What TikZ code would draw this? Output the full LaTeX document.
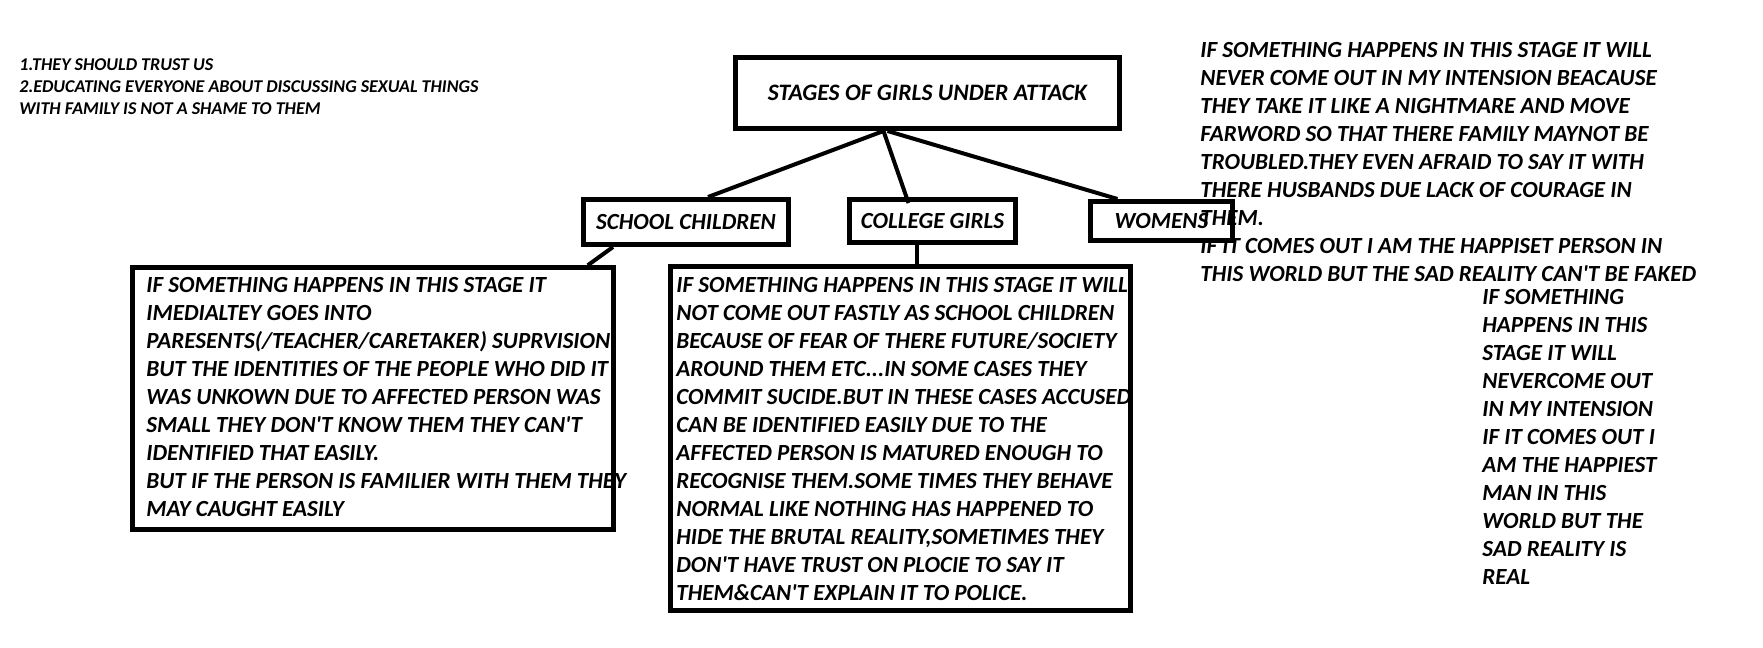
\documentclass[tikz,border=0pt]{standalone}
\usepackage{fontspec}
\setmainfont{Carlito}[Ligatures=TeXOff]

\begin{document}
\begin{tikzpicture}[x=0.5pt, y=-0.5pt,
    font=\bfseries\itshape\fontsize{11.55}{14}\selectfont,
    box/.style={draw, line width=2.5pt, inner sep=0pt},
    note/.style={align=left, inner sep=0pt, anchor=north west},
    link/.style={line width=2pt}]
  \useasboundingbox (0,0) rectangle (1763,648);

  \node[box, minimum width=192pt, minimum height=35.5pt,
        font=\bfseries\itshape\fontsize{11.8}{14}\selectfont] (title) at (927.5,93) {STAGES OF GIRLS UNDER ATTACK};
  \node[box, minimum width=102.5pt, minimum height=22.5pt] (school) at (686,222) {SCHOOL CHILDREN};
  \node[box, minimum width=83pt, minimum height=21.5pt] (college) at (932.5,221) {COLLEGE GIRLS};
  \node[box, minimum width=71pt, minimum height=19.5pt] (women) at (1161.5,221) {WOMENS};

  \node[box, line width=2.2pt, minimum width=240.5pt, minimum height=131pt] (schooltext) at (373,398.5) {};
  \node[box, line width=2.2pt, minimum width=230pt, minimum height=172pt] (collegetext) at (900.5,438.5) {};

  \node[note] (schoolnote) at (146,277) {IF SOMETHING HAPPENS IN THIS STAGE IT\\
    IMEDIALTEY GOES INTO\\
    PARESENTS(/TEACHER/CARETAKER) SUPRVISION\\
    BUT THE IDENTITIES OF THE PEOPLE WHO DID IT\\
    WAS UNKOWN DUE TO AFFECTED PERSON WAS\\
    SMALL THEY DON'T KNOW THEM THEY CAN'T\\
    IDENTIFIED THAT EASILY.\\
    BUT IF THE PERSON IS FAMILIER WITH THEM THEY\\
    MAY CAUGHT EASILY};
  \node[note] (collegenote) at (676,277) {IF SOMETHING HAPPENS IN THIS STAGE IT WILL\\
    NOT COME OUT FASTLY AS SCHOOL CHILDREN\\
    BECAUSE OF FEAR OF THERE FUTURE/SOCIETY\\
    AROUND THEM ETC...IN SOME CASES THEY\\
    COMMIT SUCIDE.BUT IN THESE CASES ACCUSED\\
    CAN BE IDENTIFIED EASILY DUE TO THE\\
    AFFECTED PERSON IS MATURED ENOUGH TO\\
    RECOGNISE THEM.SOME TIMES THEY BEHAVE\\
    NORMAL LIKE NOTHING HAS HAPPENED TO\\
    HIDE THE BRUTAL REALITY,SOMETIMES THEY\\
    DON'T HAVE TRUST ON PLOCIE TO SAY IT\\
    THEM\&CAN'T EXPLAIN IT TO POLICE.};
  \node[note] (womennote) at (1200,42) {IF SOMETHING HAPPENS IN THIS STAGE IT WILL\\
    NEVER COME OUT IN MY INTENSION BEACAUSE\\
    THEY TAKE IT LIKE A NIGHTMARE AND MOVE\\
    FARWORD SO THAT THERE FAMILY MAYNOT BE\\
    TROUBLED.THEY EVEN AFRAID TO SAY IT WITH\\
    THERE HUSBANDS DUE LACK OF COURAGE IN\\
    THEM.\\
    IF IT COMES OUT I AM THE HAPPISET PERSON IN\\
    THIS WORLD BUT THE SAD REALITY CAN'T BE FAKED};
  \node[note] (mennote) at (1482,289) {IF SOMETHING\\
    HAPPENS IN THIS\\
    STAGE IT WILL\\
    NEVERCOME OUT\\
    IN MY INTENSION\\
    IF IT COMES OUT I\\
    AM THE HAPPIEST\\
    MAN IN THIS\\
    WORLD BUT THE\\
    SAD REALITY IS\\
    REAL};
  \node[note, font=\bfseries\itshape\fontsize{9}{11}\selectfont] (remedy) at (19,58) {1.THEY SHOULD TRUST US\\
    2.EDUCATING EVERYONE ABOUT DISCUSSING SEXUAL THINGS\\
    WITH FAMILY IS NOT A SHAME TO THEM};

  \draw[link] ([xshift=-22pt]title.south) -- ([xshift=11pt]school.north);
  \draw[link] ([xshift=-22pt]title.south) -- ([xshift=-12pt, yshift=-3pt]college.north);
  \draw[link] ([xshift=-20pt]title.south) -- ([xshift=-22pt]women.north);
  \draw[link] ([xshift=-36.5pt]school.south) -- ([xshift=-14pt]schooltext.north east);
  \draw[link] ([xshift=-8pt]college.south) -- ([xshift=-8pt]college.south |- collegetext.north);
\end{tikzpicture}
\end{document}
